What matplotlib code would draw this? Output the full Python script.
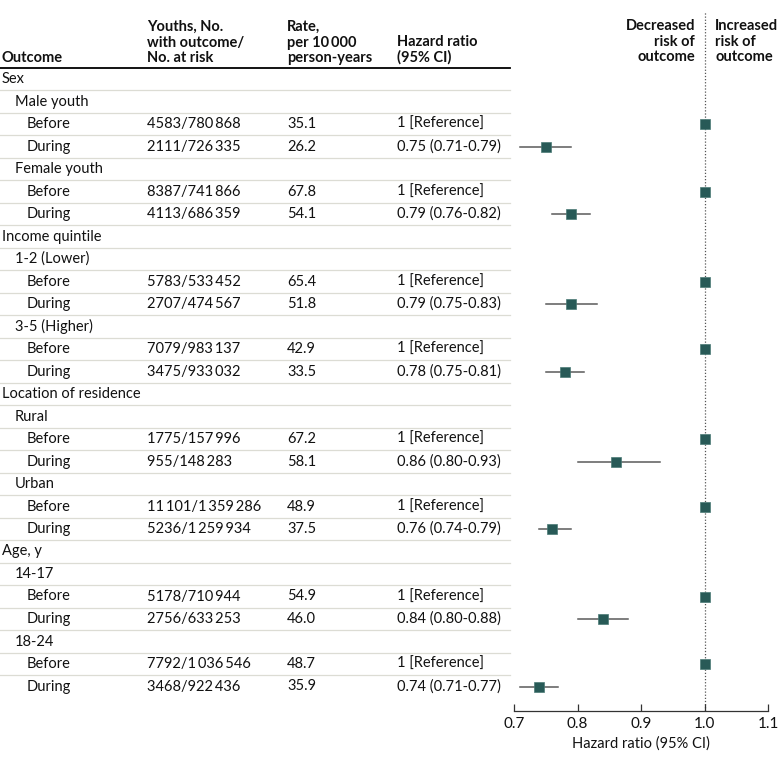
import numpy as np
import matplotlib
matplotlib.use('Agg')
import matplotlib.pyplot as plt
import matplotlib.transforms as mtransforms

plt.rcParams['font.family'] = ['Lato', 'DejaVu Sans']

TS = '\u2009'  # thin space used in the big numbers

groups = ['Sex', 'Income quintile', 'Location of residence', 'Age, y']
subgroups = ['Male youth', 'Female youth', '1-2 (Lower)', '3-5 (Higher)',
             'Rural', 'Urban', '14-17', '18-24']
before_n = ['4583/780' + TS + '868', '8387/741' + TS + '866', '5783/533' + TS + '452',
            '7079/983' + TS + '137', '1775/157' + TS + '996',
            '11' + TS + '101/1' + TS + '359' + TS + '286',
            '5178/710' + TS + '944', '7792/1' + TS + '036' + TS + '546']
during_n = ['2111/726' + TS + '335', '4113/686' + TS + '359', '2707/474' + TS + '567',
            '3475/933' + TS + '032', '955/148' + TS + '283',
            '5236/1' + TS + '259' + TS + '934',
            '2756/633' + TS + '253', '3468/922' + TS + '436']
before_rate = ['35.1', '67.8', '65.4', '42.9', '67.2', '48.9', '54.9', '48.7']
during_rate = ['26.2', '54.1', '51.8', '33.5', '58.1', '37.5', '46.0', '35.9']
hr = [0.75, 0.79, 0.79, 0.78, 0.86, 0.76, 0.84, 0.74]
hr_lo = [0.71, 0.76, 0.75, 0.75, 0.80, 0.74, 0.80, 0.71]
hr_hi = [0.79, 0.82, 0.83, 0.81, 0.93, 0.79, 0.88, 0.77]

marker_col = '#285a57'
W, H = 780, 762


def fx(px):
    return px / W


def fy(py):
    return 1 - py / H


# build the table rows
rows = []  # (label, indent, n, rate, hrtext, est, lo, hi)
for g in range(4):
    rows.append((groups[g], 0, '', '', '', None, None, None))
    for s in range(2):
        k = g * 2 + s
        rows.append((subgroups[k], 1, '', '', '', None, None, None))
        rows.append(('Before', 2, before_n[k], before_rate[k], '1 [Reference]', 1.0, None, None))
        rows.append(('During', 2, during_n[k], during_rate[k],
                     '{:.2f} ({:.2f}-{:.2f})'.format(hr[k], hr_lo[k], hr_hi[k]),
                     hr[k], hr_lo[k], hr_hi[k]))

first_y = 79
step = 22.5
axis_y = 711
nrows = len(rows)

fig = plt.figure(figsize=(W / 100, H / 100), dpi=100)
ax = fig.add_axes([fx(514), fy(axis_y), fx(768) - fx(514), axis_y / H])
ax.set_autoscale_on(False)
top_units = -first_y / step
bot_units = (axis_y - first_y) / step

trans = mtransforms.blended_transform_factory(fig.transFigure, ax.transData)

fs = 10.5
txt_col = '#111111'
indent_x = [2, 15, 27]
for i, r in enumerate(rows):
    label, ind, n, rate, hrtext, est, lo, hi = r
    ax.text(fx(indent_x[ind]), i, label, transform=trans, va='center', ha='left',
            fontsize=fs, color=txt_col, clip_on=False)
    if n:
        ax.text(fx(147), i, n, transform=trans, va='center', fontsize=fs, color=txt_col)
        ax.text(fx(287), i, rate, transform=trans, va='center', fontsize=fs, color=txt_col)
        ax.text(fx(397), i, hrtext, transform=trans, va='center', fontsize=fs, color=txt_col)
    if est is not None:
        if lo is not None:
            ax.plot([lo, hi], [i, i], color='#5a5a5a', lw=1.1, zorder=2)
        ax.plot([est], [i], marker='s', ms=7.3, color=marker_col, mec='#4a7a76',
                mew=0.5, zorder=3)
    if i < nrows - 1:
        ax.plot([0, fx(510)], [i + 0.5, i + 0.5], transform=trans, color='#dcdcd4',
                lw=0.9, clip_on=False)

# header rule
ax.plot([0, fx(510)], [-0.5, -0.5], transform=trans, color='black', lw=1.3, clip_on=False)

# column headers
hkw = dict(fontsize=fs, fontweight='bold', color=txt_col, va='bottom',
           transform=fig.transFigure, linespacing=1.13)
fig.text(fx(2), fy(65), 'Outcome', **hkw)
fig.text(fx(147), fy(65), 'Youths, No.\nwith outcome/\nNo. at risk', **hkw)
fig.text(fx(287), fy(65), 'Rate,\nper 10' + TS + '000\nperson-years', **hkw)
fig.text(fx(397), fy(65), 'Hazard ratio\n(95% CI)', **hkw)
fig.text(fx(695), fy(64), 'Decreased\nrisk of\noutcome', ha='right', **hkw)
fig.text(fx(715), fy(64), 'Increased\nrisk of\noutcome', ha='left', **hkw)

# reference line at 1
ax.axvline(1.0, ymin=0, ymax=1 - 11 / axis_y, ls=(0, (1, 1.5)), color='#555555', lw=0.9, zorder=1)

# axis styling
for sp in ['top', 'right', 'left']:
    ax.spines[sp].set_visible(False)
ax.spines['bottom'].set_color('#333333')
ax.spines['bottom'].set_linewidth(0.9)
ax.set_yticks([])
ax.set_xticks([0.7, 0.8, 0.9, 1.0, 1.1])
ax.set_xticklabels(['0.7', '0.8', '0.9', '1.0', '1.1'])
ax.tick_params(axis='x', direction='in', length=5, width=0.9, color='#333333',
               labelsize=11, labelcolor=txt_col, pad=4)
ax.set_xlabel('Hazard ratio (95% CI)', fontsize=10.5, color=txt_col, labelpad=4)
ax.patch.set_visible(False)

ax.set_ylim(bot_units, top_units)
ax.set_xlim(0.7, 1.1)

plt.savefig('out.png', dpi=100)
